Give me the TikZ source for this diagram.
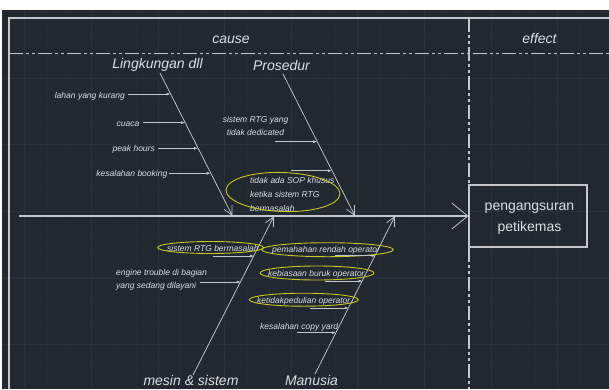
\documentclass[tikz,border=0pt]{standalone}
\usepackage{fontspec}
\setmainfont{Liberation Sans}
\usetikzlibrary{arrows.meta}
\definecolor{bgc}{HTML}{212830}
\definecolor{gridminor}{HTML}{242B34}
\definecolor{gridmajor}{HTML}{29313B}
\definecolor{txt}{HTML}{DDDFE2}
\definecolor{lnc}{HTML}{C4C6C9}
\definecolor{ylw}{HTML}{C8C81E}
\begin{document}
\begin{tikzpicture}[x=1pt,y=-1pt,
  lbl/.style={font=\fontsize{8.5}{13}\selectfont\itshape, text=txt, inner sep=0pt},
  big/.style={font=\fontsize{14}{17}\selectfont\itshape, text=txt, inner sep=0pt},
  sub/.style={draw=lnc, line width=0.8pt, -{Latex[length=4pt,width=3pt]}},
  bone/.style={draw=lnc, line width=0.75pt, -{Straight Barb[length=9pt,width=9pt,line width=0.75pt]}},
  spine/.style={draw=lnc, line width=1.8pt, -{Straight Barb[length=16pt,width=26pt,line width=0.8pt]}},
  frameline/.style={draw=lnc, line width=1.1pt},
  dashdot/.style={draw=lnc, line width=1.3pt, dash pattern=on 14pt off 3pt on 3pt off 3pt on 3pt off 3pt},
  oval/.style={draw=ylw, line width=0.9pt},
  effbox/.style={draw=lnc, line width=1.1pt, minimum width=118pt, minimum height=62pt, inner sep=0pt},
]
\useasboundingbox (0,0) rectangle (609,389);
\fill[white] (0,0) rectangle (609,389);
\fill[bgc] (2,10) rectangle (609,389);
% grid
\foreach \x in {2.6,24.8,...,609} \draw[gridminor, line width=0.6pt] (\x,10) -- (\x,389);
\foreach \y in {11.3,33.5,...,389} \draw[gridminor, line width=0.6pt] (2,\y) -- (609,\y);
\foreach \x in {24.8,91.4,...,609} \draw[gridmajor, line width=0.7pt] (\x,10) -- (\x,389);
\foreach \y in {11.3,78,...,389} \draw[gridmajor, line width=0.7pt] (2,\y) -- (609,\y);

% frame
\coordinate (frBL) at (9,389);
\coordinate (frTL) at (9,18);
\coordinate (frTR) at (609,18);
\draw[frameline] (frBL) -- (frTL) -- (frTR);
\coordinate (hdL) at (9,53.3);
\coordinate (hdR) at (609,53.3);
\draw[dashdot] (hdL) -- (hdR);

\node[big, anchor=base] (cause) at (231,43) {cause};
\node[big, anchor=base] (effect) at (539.5,43) {effect};

% effect box
\node[effbox] (eff) at (528,216) {};
\node[font=\fontsize{14}{21}\selectfont, text=txt, align=center, inner sep=0pt] (effTxt) at (529.5,218.5) {pengangsuran\\petikemas};
\coordinate (vTop) at (469,18);
\coordinate (vBot) at (469,389);
\draw[dashdot] (vTop) -- (vTop |- eff.north);
\draw[dashdot] (vBot |- eff.south) -- (vBot);

% spine
\coordinate (spL) at (19,216);
\draw[spine] (spL) -- (eff.west);

% main categories
\node[big, anchor=base] (ling) at (157.5,68) {Lingkungan dll};
\node[big, anchor=base] (pros) at (281.5,70) {Prosedur};
\node[big, anchor=base] (mesin) at (191,385) {mesin \& sistem};
\node[big, anchor=base] (manu) at (311.5,385) {Manusia};

\coordinate (lingTop) at (160,73);   \coordinate (lingEnd) at (232.5,216);
\coordinate (prosTop) at (283,74);   \coordinate (prosEnd) at (355,216);
\coordinate (mesBot) at (193,375);   \coordinate (mesEnd) at (274,216);
\coordinate (manBot) at (315,374);   \coordinate (manEnd) at (395,216);
\draw[bone] (lingTop) -- (lingEnd);
\draw[bone] (prosTop) -- (prosEnd);
\draw[bone] (mesBot) -- (mesEnd);
\draw[bone] (manBot) -- (manEnd);

% Lingkungan sub-causes
\node[lbl, anchor=base east] (l1) at (125,98) {lahan yang kurang};
\node[lbl, anchor=base east] (l2) at (139.5,126.2) {cuaca};
\node[lbl, anchor=base east] (l3) at (155,151.8) {peak hours};
\node[lbl, anchor=base east] (l4) at (167.5,176.8) {kesalahan booking};
\coordinate (l1s) at (128,94);    \coordinate (l1e) at (170.6,94);
\coordinate (l2s) at (143,122.7); \coordinate (l2e) at (185.1,122.7);
\coordinate (l3s) at (158,148.3); \coordinate (l3e) at (198,148.3);
\coordinate (l4s) at (169,173.3); \coordinate (l4e) at (210.7,173.3);
\draw[sub] (l1s) -- (l1e);
\draw[sub] (l2s) -- (l2e);
\draw[sub] (l3s) -- (l3e);
\draw[sub] (l4s) -- (l4e);

% Prosedur sub-causes
\node[lbl, align=center, anchor=north] (p1) at (255.5,115.8) {sistem RTG yang\\tidak dedicated};
\coordinate (p1s) at (275,141.7); \coordinate (p1e) at (317.2,141.7);
\draw[sub] (p1s) -- (p1e);
\node[lbl, font=\fontsize{8.5}{13.8}\selectfont\itshape, align=left, anchor=north west] (p2) at (250,177.1) {tidak ada SOP khusus\\ketika sistem RTG\\bermasalah};
\draw[oval, rotate around={-2:(283,192)}] (283,192) ellipse [x radius=57pt, y radius=19.5pt];
\coordinate (p2s) at (291,170.7); \coordinate (p2e) at (331.9,170.7);
\draw[sub] (p2s) -- (p2e);

% mesin & sistem sub-causes
\node[lbl, anchor=base west] (m1) at (167,251.5) {sistem RTG bermasalah};
\draw[oval] (210.5,247.5) ellipse [x radius=53pt, y radius=6pt];
\coordinate (m1s) at (213,256); \coordinate (m1e) at (254.2,256);
\draw[sub] (m1s) -- (m1e);
\node[lbl, font=\fontsize{8.5}{13.6}\selectfont\itshape, align=left, anchor=north west] (m2) at (116,268.7) {engine trouble di bagian\\yang sedang dilayani};
\coordinate (m2s) at (200,282); \coordinate (m2e) at (240.8,282);
\draw[sub] (m2s) -- (m2e);

% Manusia sub-causes
\node[lbl, anchor=base west] (h1) at (272,252) {pemahahan rendah operator};
\draw[oval] (327.5,249.7) ellipse [x radius=65.8pt, y radius=7pt];
\coordinate (h1s) at (335,255.7); \coordinate (h1e) at (375.5,255.7);
\draw[sub] (h1s) -- (h1e);
\node[lbl, anchor=base west] (h2) at (268,276) {kebiasaan buruk operator};
\draw[oval] (317,273) ellipse [x radius=57pt, y radius=7pt];
\coordinate (h2s) at (325,281); \coordinate (h2e) at (362.6,281);
\draw[sub] (h2s) -- (h2e);
\node[lbl, anchor=base west] (h3) at (257,303.3) {ketidakpedulian operator};
\draw[oval] (303.8,299.7) ellipse [x radius=54.5pt, y radius=6.5pt];
\coordinate (h3s) at (310,308); \coordinate (h3e) at (348.8,308);
\draw[sub] (h3s) -- (h3e);
\node[lbl, anchor=base west] (h4) at (260,329.5) {kesalahan copy yard};
\coordinate (h4s) at (297,332.7); \coordinate (h4e) at (336.1,332.7);
\draw[sub] (h4s) -- (h4e);
\end{tikzpicture}
\end{document}
